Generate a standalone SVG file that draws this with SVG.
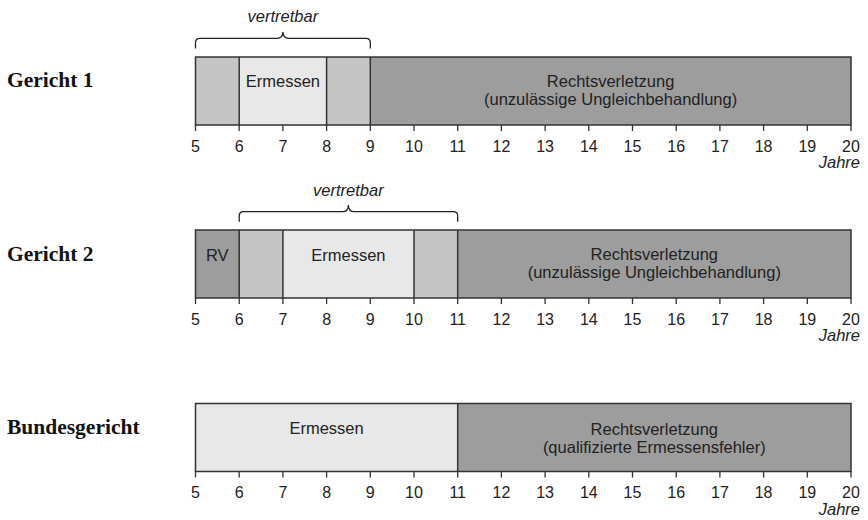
<svg xmlns="http://www.w3.org/2000/svg" width="868" height="520" viewBox="0 0 868 520">
<style>
.lbl{font-family:"Liberation Serif",serif;font-weight:bold;font-size:21.5px;fill:#111}
.t{font-family:"Liberation Sans",Arial,sans-serif;font-size:16.5px;fill:#222;text-anchor:middle}
.n{font-family:"Liberation Sans",Arial,sans-serif;font-size:16px;fill:#222;text-anchor:middle}
.it{font-family:"Liberation Sans",Arial,sans-serif;font-style:italic;font-size:16.5px;fill:#222}
.light{fill:#e8e8e8}
.mid{fill:#c5c5c5}
.dark{fill:#9d9d9d}
.div{stroke:#333;stroke-width:1.5;fill:none}
.frame{fill:none;stroke:#333;stroke-width:1.5}
.tick{stroke:#333;stroke-width:1.3}
.brace{fill:none;stroke:#222;stroke-width:1.3}
</style>
<defs>
<g id="ticks">
<path class="tick" d="M195.5 0v6M239.2 0v6M282.9 0v6M326.6 0v6M370.3 0v6M414 0v6M457.7 0v6M501.4 0v6M545.1 0v6M588.8 0v6M632.5 0v6M676.2 0v6M719.9 0v6M763.6 0v6M807.3 0v6M851 0v6"/>
<text class="n" x="195.5" y="26.7">5</text>
<text class="n" x="239.2" y="26.7">6</text>
<text class="n" x="282.9" y="26.7">7</text>
<text class="n" x="326.6" y="26.7">8</text>
<text class="n" x="370.3" y="26.7">9</text>
<text class="n" x="414" y="26.7">10</text>
<text class="n" x="457.7" y="26.7">11</text>
<text class="n" x="501.4" y="26.7">12</text>
<text class="n" x="545.1" y="26.7">13</text>
<text class="n" x="588.8" y="26.7">14</text>
<text class="n" x="632.5" y="26.7">15</text>
<text class="n" x="676.2" y="26.7">16</text>
<text class="n" x="719.9" y="26.7">17</text>
<text class="n" x="763.6" y="26.7">18</text>
<text class="n" x="807.3" y="26.7">19</text>
<text class="n" x="851" y="26.7">20</text>
<text class="it" x="860" y="43" text-anchor="end">Jahre</text>
</g>
</defs>

<g id="gericht1">
<text class="lbl" x="7" y="87">Gericht 1</text>
<rect class="mid" x="195.5" y="57" width="43.7" height="68"/>
<rect class="light" x="239.2" y="57" width="87.4" height="68"/>
<rect class="mid" x="326.6" y="57" width="43.7" height="68"/>
<rect class="dark" x="370.3" y="57" width="480.7" height="68"/>
<path class="div" d="M239.2 57v68M326.6 57v68M370.3 57v68"/>
<rect class="frame" x="195.5" y="57" width="655.5" height="68"/>
<text class="t" x="282.9" y="87.3">Ermessen</text>
<text class="t" x="610.6" y="86.7">Rechtsverletzung</text>
<text class="t" x="610.6" y="104.8">(unzulässige Ungleichbehandlung)</text>
<use href="#ticks" x="0" y="125"/>
</g>

<g id="gericht2">
<text class="lbl" x="7" y="260.5">Gericht 2</text>
<rect class="dark" x="195.5" y="230" width="43.7" height="68"/>
<rect class="mid" x="239.2" y="230" width="43.7" height="68"/>
<rect class="light" x="282.9" y="230" width="131.1" height="68"/>
<rect class="mid" x="414" y="230" width="43.7" height="68"/>
<rect class="dark" x="457.7" y="230" width="393.3" height="68"/>
<path class="div" d="M239.2 230v68M282.9 230v68M414 230v68M457.7 230v68"/>
<rect class="frame" x="195.5" y="230" width="655.5" height="68"/>
<text class="t" x="217.3" y="260.7">RV</text>
<text class="t" x="348.4" y="260.7">Ermessen</text>
<text class="t" x="654.3" y="260.2">Rechtsverletzung</text>
<text class="t" x="654.3" y="278.3">(unzulässige Ungleichbehandlung)</text>
<use href="#ticks" x="0" y="298"/>
</g>

<g id="bundesgericht">
<text class="lbl" x="7" y="434">Bundesgericht</text>
<rect class="light" x="195.5" y="403.5" width="262.2" height="68"/>
<rect class="dark" x="457.7" y="403.5" width="393.3" height="68"/>
<path class="div" d="M457.7 403.5v68"/>
<rect class="frame" x="195.5" y="403.5" width="655.5" height="68"/>
<text class="t" x="326.6" y="434">Ermessen</text>
<text class="t" x="654.3" y="434.5">Rechtsverletzung</text>
<text class="t" x="654.3" y="452.6">(qualifizierte Ermessensfehler)</text>
<use href="#ticks" x="0" y="471.5"/>
</g>

<g id="connectors">
<path class="brace" d="M195.5 48.5V42.5Q195.5 38.3 200 38.3H277Q282.9 38.3 282.9 32Q282.9 38.3 288.8 38.3H366Q370.3 38.3 370.3 42.5V48.5"/>
<text class="it" x="282.9" y="21.7" text-anchor="middle">vertretbar</text>
<path class="brace" d="M239.2 221.7V216Q239.2 211.7 243.5 211.7H342.5Q348.4 211.7 348.4 205Q348.4 211.7 354.3 211.7H453.4Q457.7 211.7 457.7 216V221.7"/>
<text class="it" x="348.4" y="195.5" text-anchor="middle">vertretbar</text>
</g>
</svg>
